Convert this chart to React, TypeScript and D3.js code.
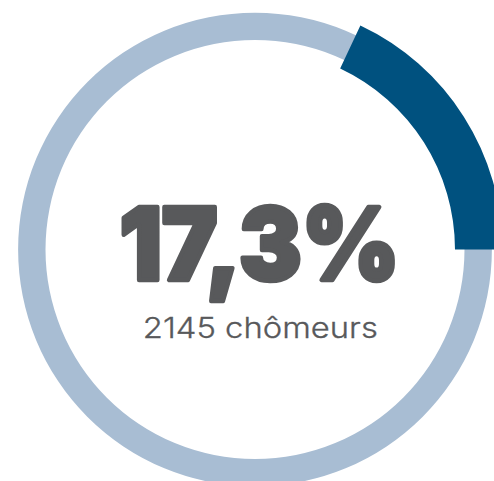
import React, { useEffect } from "react";
import * as d3 from "d3";

// Data
const rateLabels = ["17,3%"];
const countLabels = ["2145 chômeurs"];
const arcPercents = [18]; // share of the ring drawn in dark blue
const totalPercent = [100];

const W = 494;
const H = 481;
const CX = 255;
const CY = 249.5;

export default function App() {
  useEffect(() => {
    document.body.style.margin = "0";
  }, []);

  const angle = d3.scaleLinear().domain([0, totalPercent[0]]).range([0, 2 * Math.PI]);

  const bgArc = d3
    .arc<any>()
    .innerRadius(209.5)
    .outerRadius(236.8)
    .startAngle(0)
    .endAngle(angle(totalPercent[0]));

  const end = Math.PI / 2;
  const fgArc = d3
    .arc<any>()
    .innerRadius(200)
    .outerRadius(247.5)
    .startAngle(end - angle(arcPercents[0]))
    .endAngle(end);

  return (
    <svg width={W} height={H} style={{ display: "block" }}>
      <rect width={W} height={H} fill="#ffffff" />
      <g transform={`translate(${CX},${CY})`}>
        <path d={bgArc({}) || ""} fill="#a8bdd3" />
        <path d={fgArc({}) || ""} fill="#00517f" />
      </g>
      <text
        x={259.5}
        y={279.5}
        textAnchor="middle"
        fontFamily="Inter, Lato, Roboto, sans-serif"
        fontWeight={900}
        fontSize={101}
        fill="#58595b"
        stroke="#58595b"
        strokeWidth={4.5}
        strokeLinejoin="round"
        textLength={280}
        lengthAdjust="spacingAndGlyphs"
      >
        {rateLabels[0]}
      </text>
      <text
        x={260.3}
        y={338.3}
        textAnchor="middle"
        fontFamily="Inter, 'Open Sans', sans-serif"
        fontWeight={300}
        fontSize={28}
        fill="#58595b"
        stroke="#58595b"
        strokeWidth={0.3}
        textLength={235}
        lengthAdjust="spacingAndGlyphs"
      >
        {countLabels[0]}
      </text>
    </svg>
  );
}
